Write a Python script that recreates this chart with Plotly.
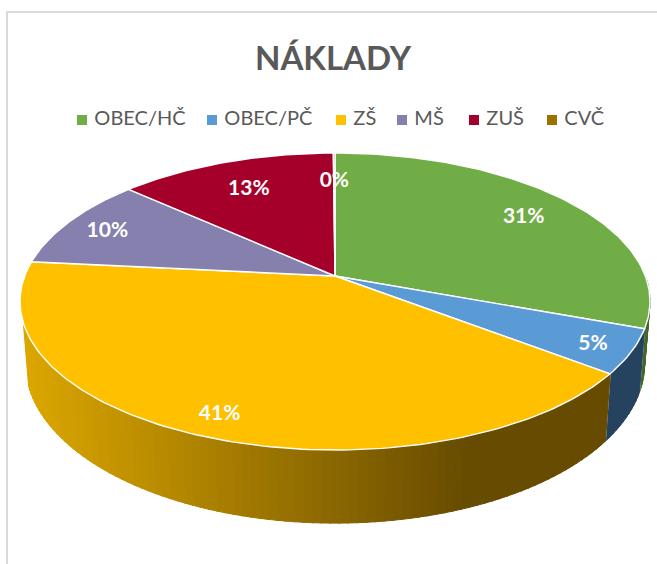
import numpy as np
import plotly.graph_objects as go

categories = ["OBEC/HČ", "OBEC/PČ", "ZŠ", "MŠ", "ZUŠ", "CVČ"]
values = [30.6, 4.8, 41.2, 10.1, 13.2, 0.1]

colors = ["#70AD47", "#5B9BD5", "#FFC000", "#8580AE", "#A5002A", "#9E7000"]
side_left = ["#43682A", "#25425E", "#DBA600", "#555555", "#660000", "#5A4000"]
side_right = ["#43682A", "#25425E", "#664B00", "#555555", "#660000", "#5A4000"]
label_radius = [0.80, 0.88, 0.87, 0.85, 0.76, 0.76]
legend_x = [82, 212, 341, 402, 474, 552]

K = 0.1717
TOP = dict(a=310.3, b=144.1, cx=335, cy=276)
BOT = dict(a=305.0, b=155.0, cx=335, cy=336)
WALL_FROM, WALL_TO = np.pi * 0.5, np.pi * 1.40


def project(theta, r, g):
    X, Y = r * np.sin(theta), r * np.cos(theta)
    d = 1 + K * Y
    return g["cx"] + g["a"] * X / d, g["cy"] - g["b"] * Y / d


def mix(c1, c2, t):
    h = lambda c: np.array([int(c[i:i + 2], 16) for i in (1, 3, 5)], float)
    m = h(c1) * (1 - t) + h(c2) * t
    return "#%02X%02X%02X" % tuple(int(round(v)) for v in m)


fig = go.Figure()
frac = np.array(values) / sum(values)
edges = np.concatenate([[0], np.cumsum(frac)]) * 2 * np.pi

XMIN, XMAX = 25.0, 470.0

# Side walls, drawn first, strip by strip for the horizontal shading
for i in range(len(values)):
    t0, t1 = edges[i], edges[i + 1]
    lo, hi = max(t0, WALL_FROM), min(t1, WALL_TO)
    if hi <= lo:
        continue
    n = max(2, int((hi - lo) / (2 * np.pi) * 260))
    ts = np.linspace(lo, hi, n + 1)
    for a, b in zip(ts[:-1], ts[1:]):
        tt = np.linspace(a, min(b + 0.004, hi), 4)
        xt, yt = project(tt, 1, TOP)
        xb, yb = project(tt[::-1], 1, BOT)
        xs = np.concatenate([xt, xb, xt[:1]])
        ys = np.concatenate([yt, yb, yt[:1]])
        u = np.clip((xt.mean() - XMIN) / (XMAX - XMIN), 0, 1)
        c = mix(side_left[i], side_right[i], u)
        fig.add_trace(go.Scatter(x=xs, y=ys, mode="lines", fill="toself", fillcolor=c,
                                 line=dict(color=c, width=1), hoverinfo="skip", showlegend=False))
    # white wall seam at the slice's end
    if WALL_FROM < t1 < WALL_TO:
        xa, ya = project(np.array([t1]), 1, TOP)
        xb, yb = project(np.array([t1]), 1, BOT)
        fig.add_trace(go.Scatter(x=[xa[0], xb[0]], y=[ya[0], yb[0]], mode="lines",
                                 line=dict(color="rgba(255,255,255,0.75)", width=1.2),
                                 hoverinfo="skip", showlegend=False))

# Top faces
for i in range(len(values)):
    tt = np.linspace(edges[i], edges[i + 1], max(3, int(frac[i] * 360)))
    xr, yr = project(tt, 1, TOP)
    xc, yc = project(np.array([0.0]), 0, TOP)
    fig.add_trace(go.Scatter(x=np.concatenate([xc, xr, xc]), y=np.concatenate([yc, yr, yc]),
                             mode="lines", fill="toself", fillcolor=colors[i],
                             line=dict(color="#FFFFFF", width=1.4), name=categories[i],
                             hoverinfo="name", showlegend=False))

# Data labels
for i in range(len(values)):
    mid = (edges[i] + edges[i + 1]) / 2
    lx, ly = project(np.array([mid]), label_radius[i], TOP)
    fig.add_trace(go.Scatter(x=lx, y=ly + 3, mode="text", text=[f"{values[i]:.0f}%"],
                             textfont=dict(family="Lato", size=21, color="#FFFFFF", weight="bold"),
                             hoverinfo="skip", showlegend=False))

# Legend row
for i in range(len(values)):
    fig.add_trace(go.Scatter(x=[legend_x[i]], y=[120], mode="markers+text",
                             text=["\u00a0" + categories[i]],
                             textposition="middle right",
                             marker=dict(symbol="square", size=10, color=colors[i]),
                             textfont=dict(family="Lato", size=20, color="#595959"),
                             hoverinfo="skip", showlegend=False))

# Chart frame
fig.add_shape(type="line", x0=7, x1=7, y0=12, y1=564, line=dict(color="#D9D9D9", width=2))
fig.add_shape(type="line", x0=6, x1=657, y0=12, y1=12, line=dict(color="#D9D9D9", width=2))

fig.add_annotation(x=333, y=57, text="<b>NÁKLADY</b>", showarrow=False,
                   font=dict(family="Lato", size=33, color="#595959"))

fig.update_xaxes(visible=False, range=[0, 657], fixedrange=True)
fig.update_yaxes(visible=False, range=[564, 0], fixedrange=True)
fig.update_layout(width=657, height=564, margin=dict(l=0, r=0, t=0, b=0),
                  paper_bgcolor="#FFFFFF", plot_bgcolor="#FFFFFF", showlegend=False)
fig.write_html("out.html", config=dict(displayModeBar=False),
               post_script="document.body.style.margin='0';document.documentElement.style.overflow='hidden';")
